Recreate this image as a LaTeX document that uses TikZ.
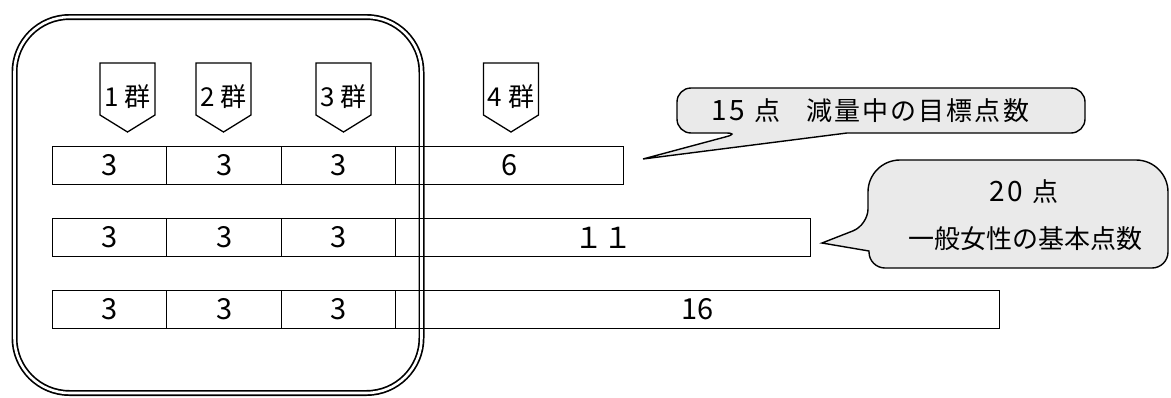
\documentclass[tikz,border=0pt]{standalone}
\usepackage{fontspec}
\setmainfont{Noto Sans CJK JP}
\newfontfamily\cjkwide[LetterSpace=8]{Noto Sans CJK JP}
\newfontfamily\digitwide[LetterSpace=10]{Noto Sans CJK JP}
\definecolor{calloutgray}{HTML}{EAEAEA}
\newcommand\grouptag[3]{%
  \draw[tagline] (#2-27.5,63) -- (#2+27.5,63) -- (#2+27.5,115) -- (#2,132) -- (#2-27.5,115) -- cycle;
  \node[tagtext] (#1) at (#2,97) {#3};}
\begin{document}
\begin{tikzpicture}[x=1pt,y=-1pt,line width=1.3pt,
  font=\fontsize{26}{30}\selectfont,
  cell/.style={draw,minimum height=38pt,inner sep=0pt,anchor=north west,font=\fontsize{29}{32}\selectfont},
  tagline/.style={draw,line width=1.3pt,line join=miter},
  tagtext/.style={inner sep=0pt,font=\fontsize{26}{28}\selectfont},
  callout/.style={draw,fill=calloutgray,line width=1.4pt,line join=miter},
  ctext/.style={inner sep=0pt}]
\useasboundingbox (0,0) rectangle (1171,397);
% double rounded frame
\draw[double,double distance=2.6pt,line width=1.7pt,rounded corners=55pt] (14.5,17) rectangle (421.5,393);
% group tags
\grouptag{g1}{127.5}{1\hspace{6pt}群}
\grouptag{g2}{223.5}{2\hspace{6pt}群}
\grouptag{g3}{343.5}{3\hspace{6pt}群}
\grouptag{g4}{511}{4\hspace{6pt}群}
% row 1
\node[cell,minimum width=114pt] (a1) at (52,146) {3};
\node[cell,minimum width=115pt] (a2) at (166,146) {3};
\node[cell,minimum width=114pt] (a3) at (281,146) {3};
\node[cell,minimum width=228pt] (a4) at (395,146) {6};
% row 2
\node[cell,minimum width=114pt] (b1) at (52,218) {3};
\node[cell,minimum width=115pt] (b2) at (166,218) {3};
\node[cell,minimum width=114pt] (b3) at (281,218) {3};
\node[cell,minimum width=415pt] (b4) at (395,218) {１１};
% row 3
\node[cell,minimum width=114pt] (c1) at (52,290) {3};
\node[cell,minimum width=115pt] (c2) at (166,290) {3};
\node[cell,minimum width=114pt] (c3) at (281,290) {3};
\node[cell,minimum width=604pt] (c4) at (395,290) {16};
% callout 1
\coordinate (tip1) at (643,159);
\draw[callout] (847,133) [rounded corners=14pt] -- (1085,133) -- (1085,88) -- (677,88) -- (677,133) -- (740,133) [sharp corners] -- (tip1) -- cycle;
\node[ctext,anchor=west] (t1) at (711,111) {{\digitwide\fontsize{28}{30}\selectfont 15}\hspace{9pt}点\hspace{26pt}{\cjkwide 減量中の目標点数}};
% callout 2
\coordinate (tip2) at (822,243);
\draw[callout] (869,251) [rounded corners=16pt] -- (869,268) -- (1168,268) [rounded corners=32pt] -- (1168,160) -- (868,160) [rounded corners=16pt] -- (868,225) [sharp corners] -- (tip2) -- cycle;
\node[ctext] (t2) at (1024,192) {{\digitwide\fontsize{28}{30}\selectfont 20}\hspace{9pt}点};
\node[ctext] (t3) at (1025,239) {一般女性の基本点数};
\end{tikzpicture}
\end{document}
